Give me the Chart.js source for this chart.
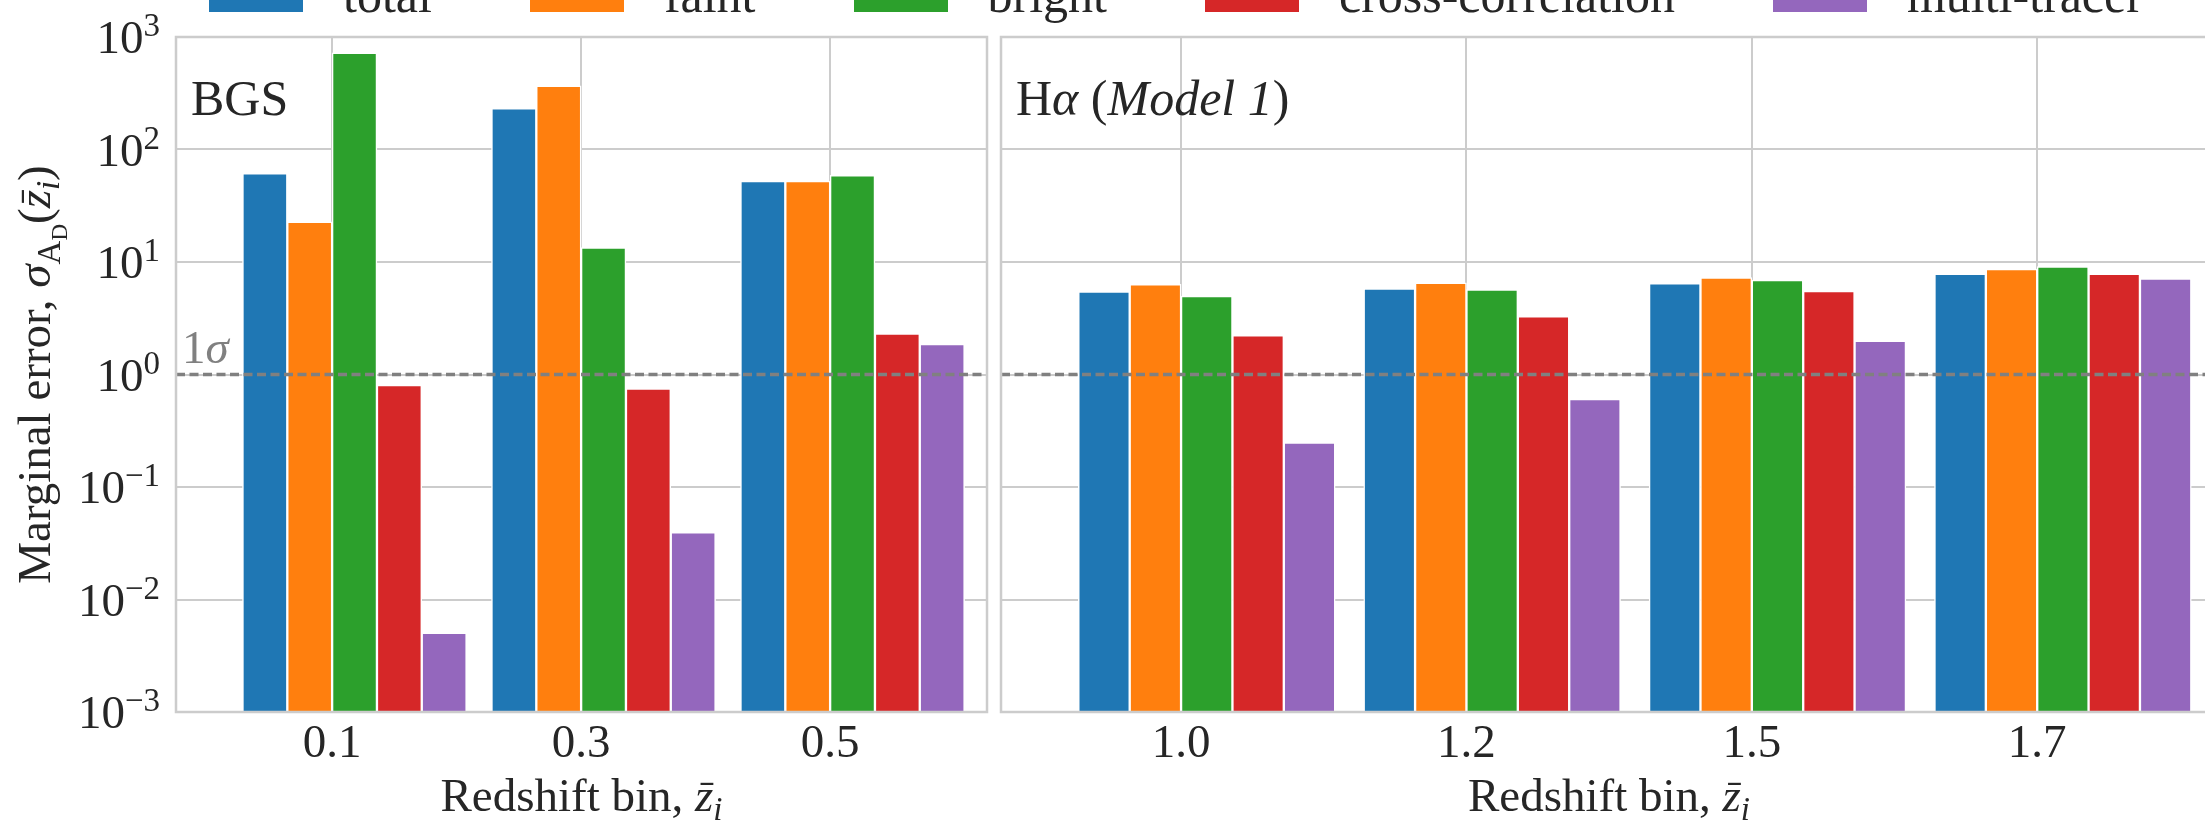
<!DOCTYPE html>
<html>
<head>
<meta charset="utf-8">
<script src="https://cdn.jsdelivr.net/npm/chart.js@4.4.0/dist/chart.umd.min.js"></script>
<style>
    body {
        margin: 0;
        width: 2205px;
        height: 822px;
        overflow: hidden;
        position: relative;
        background: #fff;
        font-family: 'Liberation Serif', 'DejaVu Serif', serif;
        color: #262626;
    }
    #legend {
        position: absolute;
        left: 209px;
        top: -30px;
        display: flex;
        align-items: baseline;
        font-size: 50px;
        line-height: 50px;
        white-space: nowrap;
        z-index: 2;
    }
    .item { display: flex; align-items: baseline; margin-right: 98px; }
    .swatch { display: inline-block; width: 94px; height: 34px; margin-right: 40px; }
    canvas { position: absolute; top: 0; }
</style>
</head>
<body>
<div id="legend"></div>
<canvas id="bgsChart" width="994" height="822" style="left:0"></canvas>
<canvas id="haChart" width="1230" height="822" style="left:994px"></canvas>
<script>
const seriesNames = ['total', 'faint', 'bright', 'cross-correlation', 'multi-tracer'];
const seriesColors = ['#1f77b4', '#ff7f0e', '#2ca02c', '#d62728', '#9467bd'];

// BGS panel
const bgsBins = ['0.1', '0.3', '0.5'];
const bgsTotal = [61.5, 232, 52.4];
const bgsFaint = [22.7, 369, 52.4];
const bgsBright = [725, 13.4, 58.9];
const bgsCross = [0.807, 0.748, 2.31];
const bgsMulti = [0.00505, 0.0396, 1.86];

// H-alpha (Model 1) panel
const haBins = ['1.0', '1.2', '1.5', '1.7'];
const haTotal = [5.45, 5.81, 6.47, 7.83];
const haFaint = [6.33, 6.54, 7.28, 8.63];
const haBright = [4.99, 5.69, 6.90, 9.12];
const haCross = [2.23, 3.29, 5.51, 7.83];
const haMulti = [0.248, 0.604, 1.99, 7.12];

const yTicks = [1e-3, 1e-2, 1e-1, 1e0, 1e1, 1e2, 1e3];
const sigmaLevel = 1;

const FAM = "'Liberation Serif', 'DejaVu Serif', serif";
const INK = '#262626';
const GRID = '#cccccc';
const barW = 0.18;

// legend (html, clipped at the top like the original)
const legend = document.getElementById('legend');
seriesNames.forEach((name, k) => {
    const item = document.createElement('div');
    item.className = 'item';
    const sw = document.createElement('span');
    sw.className = 'swatch';
    sw.style.background = seriesColors[k];
    const label = document.createElement('span');
    label.textContent = name;
    item.appendChild(sw);
    item.appendChild(label);
    legend.appendChild(item);
});

function font(size, italic) {
    return (italic ? 'italic ' : '') + size + 'px ' + FAM;
}

// draws a row of text pieces (for the little bits of math)
function drawRich(ctx, parts, x, y, align) {
    let total = 0;
    parts.forEach(p => {
        ctx.font = font(p.size, p.it);
        p.w = ctx.measureText(p.t).width;
        total += p.w;
    });
    let cx = align === 'center' ? x - total / 2 : align === 'right' ? x - total : x;
    parts.forEach(p => {
        ctx.font = font(p.size, p.it);
        ctx.fillText(p.t, cx, y + (p.dy || 0));
        if (p.bar) {
            ctx.fillRect(cx + p.w * 0.3, y - p.size * 0.6, p.w * 0.7, 2.2);
        }
        cx += p.w;
    });
}

const xTitle = [
    {t: 'Redshift bin, ', size: 47},
    {t: 'z', size: 47, it: true, bar: true},
    {t: 'i', size: 33, it: true, dy: 9}
];
const yTitle = [
    {t: 'Marginal error, ', size: 47},
    {t: 'σ', size: 47, it: true},
    {t: 'A', size: 33, dy: 10},
    {t: 'D', size: 23, dy: 17},
    {t: '(', size: 47},
    {t: 'z', size: 47, it: true, bar: true},
    {t: 'i', size: 33, it: true, dy: 9},
    {t: ')', size: 47}
];

const panelDecor = {
    id: 'panelDecor',
    afterDatasetsDraw(chart, args, o) {
        const {ctx, chartArea: a} = chart;
        const ys = chart.scales.y.getPixelForValue(sigmaLevel);
        ctx.save();
        ctx.strokeStyle = '#808080';
        ctx.lineWidth = 3.5;
        ctx.setLineDash([9, 4.5]);
        ctx.beginPath();
        ctx.moveTo(a.left, ys);
        ctx.lineTo(a.right, ys);
        ctx.stroke();
        ctx.setLineDash([]);
        ctx.strokeStyle = GRID;
        ctx.lineWidth = 2.5;
        ctx.strokeRect(a.left, a.top, a.right - a.left, a.bottom - a.top);
        ctx.restore();
    },
    afterDraw(chart, args, o) {
        const {ctx, chartArea: a} = chart;
        const y = chart.scales.y;
        ctx.save();
        ctx.fillStyle = INK;
        ctx.textAlign = 'left';
        ctx.textBaseline = 'alphabetic';
        drawRich(ctx, o.label, a.left + 15, a.top + 78, 'left');
        drawRich(ctx, xTitle, (a.left + a.right) / 2, 811, 'center');
        if (o.yAxis) {
            yTicks.forEach(v => {
                const e = Math.round(Math.log10(v));
                const py = y.getPixelForValue(v);
                drawRich(ctx, [
                    {t: '10', size: 47},
                    {t: e < 0 ? '\u2212' + (-e) : String(e), size: 33, dy: -17}
                ], a.left - 16, py + 16, 'right');
            });
            ctx.save();
            ctx.translate(50, (a.top + a.bottom) / 2);
            ctx.rotate(-Math.PI / 2);
            drawRich(ctx, yTitle, 0, 0, 'center');
            ctx.restore();
            ctx.fillStyle = '#808080';
            drawRich(ctx, [{t: '1', size: 47}, {t: 'σ', size: 47, it: true}],
                a.left + 6, y.getPixelForValue(sigmaLevel) - 12, 'left');
        }
        ctx.restore();
    }
};

function makeDatasets(series) {
    return series.map((values, k) => ({
        label: seriesNames[k],
        data: values.map((v, i) => ({x: i + (k - 1.5) * barW, y: v})),
        backgroundColor: seriesColors[k],
        borderColor: '#ffffff',
        borderWidth: 1.5,
        borderSkipped: 'bottom',
        grouped: false,
        barPercentage: 1,
        categoryPercentage: 1
    }));
}

function makePanel(canvasId, bins, series, xMin, xMax, opts) {
    return new Chart(document.getElementById(canvasId), {
        type: 'bar',
        data: {datasets: makeDatasets(series)},
        options: {
            responsive: false,
            animation: false,
            layout: {padding: opts.padding},
            plugins: {
                legend: {display: false},
                tooltip: {enabled: false},
                panelDecor: {label: opts.label, yAxis: opts.yAxis}
            },
            scales: {
                x: {
                    type: 'linear',
                    min: xMin,
                    max: xMax,
                    offset: false,
                    afterBuildTicks: s => { s.ticks = bins.map((b, i) => ({value: i})); },
                    afterFit: s => { s.height = 110; },
                    ticks: {
                        autoSkip: false,
                        maxRotation: 0,
                        padding: 4,
                        color: INK,
                        font: {family: FAM, size: 47},
                        callback: v => bins[v]
                    },
                    grid: {color: GRID, lineWidth: 2, drawTicks: false, offset: false},
                    border: {display: false}
                },
                y: {
                    type: 'logarithmic',
                    min: 1e-3,
                    max: 1e3,
                    afterBuildTicks: s => { s.ticks = yTicks.map(v => ({value: v})); },
                    afterFit: s => { s.width = opts.yWidth; },
                    ticks: {display: false},
                    grid: {color: GRID, lineWidth: 2, drawTicks: false},
                    border: {display: false}
                }
            }
        },
        plugins: [panelDecor]
    });
}

makePanel('bgsChart', bgsBins,
    [bgsTotal, bgsFaint, bgsBright, bgsCross, bgsMulti],
    -0.627, 2.63,
    {
        padding: {top: 37, right: 7, left: 0, bottom: 0},
        yWidth: 176,
        yAxis: true,
        label: [{t: 'BGS', size: 50}]
    });

makePanel('haChart', haBins,
    [haTotal, haFaint, haBright, haCross, haMulti],
    -0.631, 3.63,
    {
        padding: {top: 37, right: 7, left: 7, bottom: 0},
        yWidth: 0,
        yAxis: false,
        label: [
            {t: 'H', size: 50},
            {t: 'α', size: 50, it: true},
            {t: ' (', size: 50},
            {t: 'Model 1', size: 50, it: true},
            {t: ')', size: 50}
        ]
    });
</script>
</body>
</html>
